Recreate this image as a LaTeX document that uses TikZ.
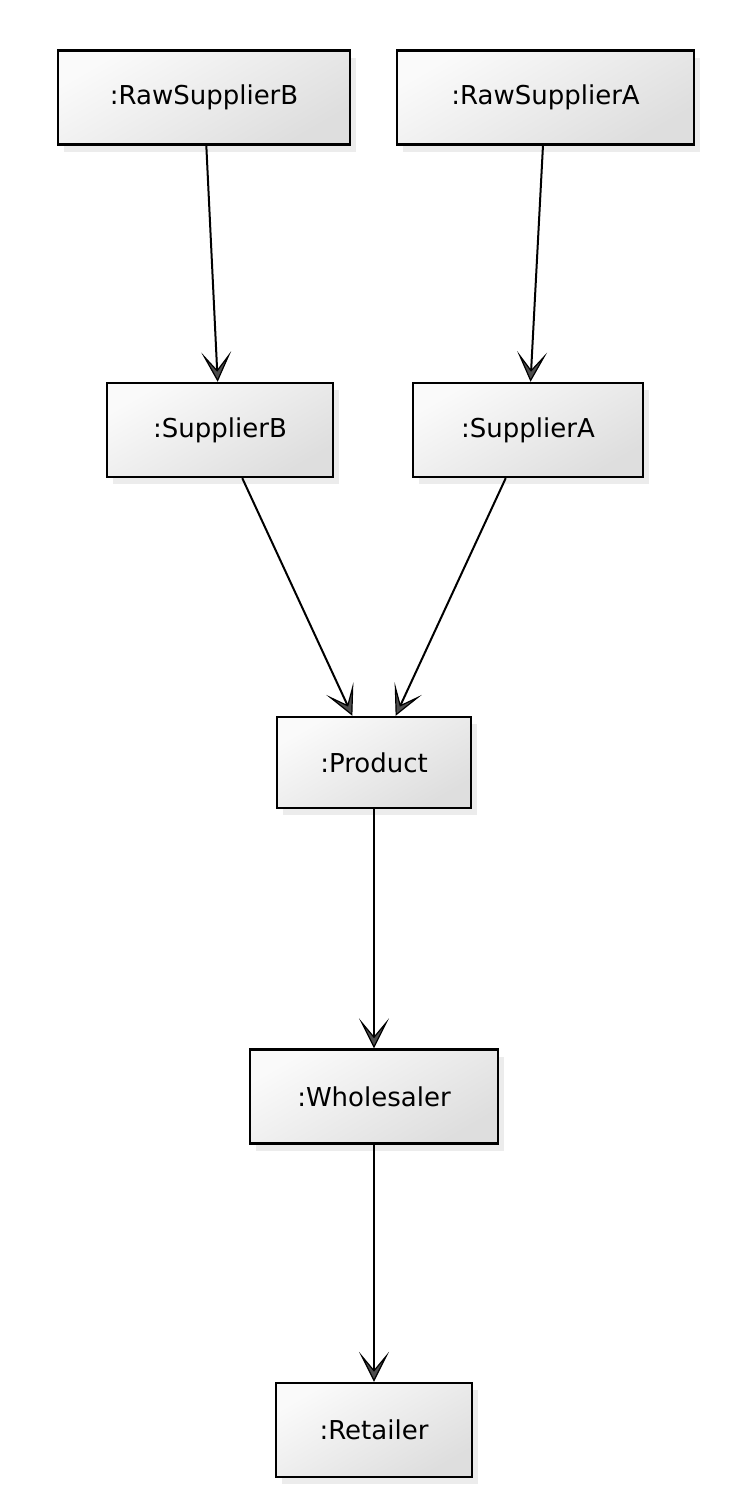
\documentclass[tikz,border=0pt]{standalone}
\usepackage{fontspec}
\setmainfont{DejaVu Sans}
\usetikzlibrary{arrows.meta, shadows}

\begin{document}
\begin{tikzpicture}[x=1pt,y=-1pt,
    obj/.style={draw,line width=2.4pt,minimum height=94pt,
        top color=gray!4,bottom color=gray!26,shading angle=30,
        drop shadow={opacity=0.15,shadow xshift=6pt,shadow yshift=-7pt},
        font=\fontsize{26}{30}\selectfont},
    flow/.style={line width=2pt,
        -{Stealth[length=30pt,width=30pt,inset=18pt,fill=black!70,line width=1.2pt]}}]
    \useasboundingbox (0,0) rectangle (752,1510);
    %原材料の供給者
    \node[obj,minimum width=292pt] (rawB) at (204,97.5) {:RawSupplierB};
    \node[obj,minimum width=297pt] (rawA) at (545.5,97.5) {:RawSupplierA};
    %供給者
    \node[obj,minimum width=226pt] (supB) at (220,430) {:SupplierB};
    \node[obj,minimum width=230pt] (supA) at (528,430) {:SupplierA};
    %製品と流通
    \node[obj,minimum width=194pt,minimum height=91pt] (prod) at (374,762.5) {:Product};
    \node[obj,minimum width=248pt] (whole) at (374,1096.5) {:Wholesaler};
    \node[obj,minimum width=196pt] (retail) at (374,1430) {:Retailer};
    %矢印
    \draw[flow] (rawB)--(supB);
    \draw[flow] (rawA)--(supA);
    \draw[flow] (supB)--(prod);
    \draw[flow] (supA)--(prod);
    \draw[flow] (prod)--(whole);
    \draw[flow] (whole)--(retail);
\end{tikzpicture}
\end{document}
